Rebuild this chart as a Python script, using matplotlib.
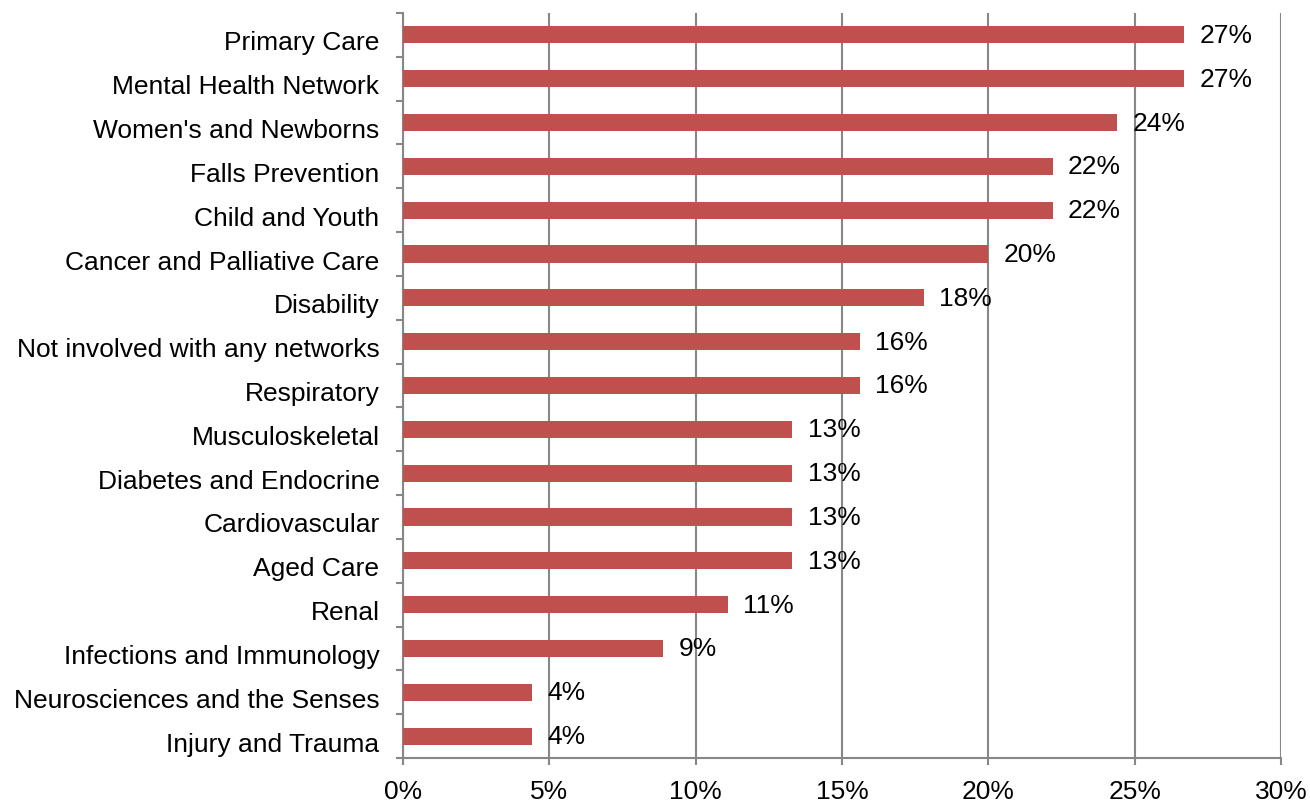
import matplotlib.pyplot as plt
from matplotlib.ticker import FixedLocator, PercentFormatter
from matplotlib.transforms import ScaledTranslation

plt.rcParams['font.family'] = ['Liberation Sans', 'DejaVu Sans']

# Categories top to bottom and share of respondents (%)
categories = ['Primary Care', 'Mental Health Network', "Women's and Newborns",
              'Falls Prevention', 'Child and Youth', 'Cancer and Palliative Care',
              'Disability', 'Not involved with any networks', 'Respiratory',
              'Musculoskeletal', 'Diabetes and Endocrine', 'Cardiovascular',
              'Aged Care', 'Renal', 'Infections and Immunology',
              'Neurosciences and the Senses', 'Injury and Trauma']
values = [26.7, 26.7, 24.4, 22.2, 22.2, 20.0, 17.8, 15.6, 15.6,
          13.3, 13.3, 13.3, 13.3, 11.1, 8.9, 4.4, 4.4]
xticks = [0, 5, 10, 15, 20, 25, 30]

grey = '#878787'
fs = 19
fig = plt.figure(figsize=(13.1, 8.03), dpi=100)
ax = fig.add_axes([403 / 1310, 44 / 803, 878 / 1310, 745 / 803])

pos = list(range(len(categories)))
bars = ax.barh(pos, values, height=0.39, color='#C0504D', zorder=3)
ax.bar_label(bars, labels=[f'{v:.0f}%' for v in values], padding=11,
             fontsize=fs, color='black')

ax.set_xlim(0, 30)
ax.set_ylim(len(categories) - 0.5, -0.5)
ax.set_xticks(xticks)
ax.xaxis.set_major_formatter(PercentFormatter(decimals=0))
ax.set_yticks(pos)
ax.set_yticklabels(categories)
ax.yaxis.set_minor_locator(FixedLocator([p - 0.5 for p in pos] + [len(pos) - 0.5]))

ax.tick_params(axis='y', which='major', length=0, pad=17, labelsize=fs)
ax.tick_params(axis='y', which='minor', length=5, width=1.5, color=grey)
ax.tick_params(axis='x', length=5, width=1.5, color=grey, pad=10, labelsize=fs)

# category labels sit a little below the bar centres
shift = ScaledTranslation(0, -0.05, fig.dpi_scale_trans)
for lab in ax.get_yticklabels():
    lab.set_transform(lab.get_transform() + shift)

ax.grid(axis='x', color=grey, linewidth=1.5, zorder=0)
for s in ['top', 'right']:
    ax.spines[s].set_visible(False)
for s in ['left', 'bottom']:
    ax.spines[s].set_color(grey)
    ax.spines[s].set_linewidth(1.5)

fig.savefig('out.png', dpi=100)
